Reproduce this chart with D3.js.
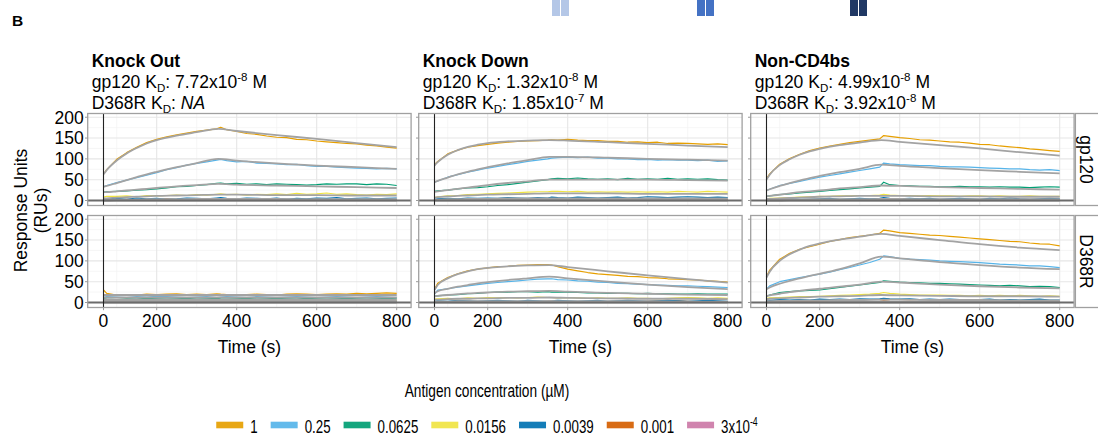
<!DOCTYPE html>
<html>
<head>
<meta charset="utf-8">
<script src="https://cdn.jsdelivr.net/npm/d3@7"></script>
<style>
  body { margin: 0; background: #fff; }
  svg text { font-family: "Liberation Sans", Arial, Helvetica, sans-serif; fill: #000; }
</style>
</head>
<body>
<svg id="chart" width="1098" height="437"></svg>
<script>
// ---- chart values ----
const concentrations = ["1", "0.25", "0.0625", "0.0156", "0.0039", "0.001", "3x10"];
const concSup = ["", "", "", "", "", "", "-4"];
const concColors = ["#E69F00", "#56B4E9", "#009E73", "#F0E442", "#0072B2", "#D55E00", "#CC79A7"];

const antibodies = ["Knock Out", "Knock Down", "Non-CD4bs"];
const gp120Kd = ["7.72x10", "1.32x10", "4.99x10"];
const gp120Exp = ["-8", "-8", "-8"];
const d368rKd = ["NA", "1.85x10", "3.92x10"];
const d368rExp = ["", "-7", "-8"];
const antigens = ["gp120", "D368R"];

const injectionStart = 67;
const xTickValues = [67, 200, 400, 600, 800];
const xTickLabels = ["0", "200", "400", "600", "800"];
const xMajorGrid = [200, 400, 600, 800];
const xMinorGrid = [100, 300, 500, 700];
const yTickValues = [0, 50, 100, 150, 200];
const yMinorGrid = [25, 75, 125, 175];

// sampling times of the sensorgrams and of the fitted curves (s)
const dataTimes = [67, 75, 100, 125, 150, 175, 200, 225, 250, 275, 300, 325, 350, 360, 375, 400,
  425, 450, 475, 500, 525, 550, 575, 600, 625, 650, 675, 700, 725, 750, 775, 800];
const fitTimes = [67, 75, 100, 125, 150, 175, 200, 250, 300, 354, 400, 500, 600, 700, 800];

// Knock Out / gp120
const koGp120Data = [
  [63, 74, 99, 115, 128, 139, 147, 153, 158, 162, 166, 169, 172, 176, 170, 166, 161, 159, 155, 152, 151, 147, 146, 143, 141, 139, 137, 136, 133, 131, 128, 126],
  [33, 36, 43, 49, 55, 61, 67, 74, 79, 85, 89, 93, 97, 99, 96, 93, 94, 90, 89, 88, 86, 87, 84, 82, 82, 80, 79, 78, 77, 76, 77, 76],
  [20, 21, 22, 23, 25, 26, 28, 30, 33, 34, 36, 38, 41, 42, 40, 41, 39, 40, 38, 40, 39, 38, 37, 38, 40, 39, 40, 40, 38, 40, 39, 36],
  [8, 10, 10, 11, 9, 12, 11, 12, 13, 12, 14, 13, 15, 16, 14, 15, 13, 15, 14, 16, 14, 17, 15, 16, 18, 15, 16, 14, 13, 15, 14, 16],
  [3, 4, 5, 3, 6, 4, 5, 3, 4, 6, 5, 4, 6, 7, 5, 4, 6, 5, 4, 6, 3, 5, 4, 6, 5, 7, 4, 5, 6, 4, 5, 6],
  [1, 2, 1, 3, 2, 1, 2, 4, 2, 1, 2, 3, 2, 3, 1, 2, 3, 1, 2, 2, 3, 1, 2, 4, 2, 1, 3, 2, 2, 3, 1, 2],
  [0, 1, 0, 1, 2, 0, 1, 0, 1, 1, 0, 2, 1, 0, 1, 1, 0, 1, 2, 0, 1, 0, 1, 1, 0, 1, 2, 0, 1, 0, 1, 1]
];
const koGp120Fit = [
  [63, 73, 96, 113, 126, 137, 145, 156, 164, 172, 167, 157, 148, 138, 128],
  [33, 35, 42, 49, 56, 63, 69, 80, 90, 100, 96, 89, 84, 80, 76],
  [20, 20, 22, 24, 26, 28, 30, 34, 37, 40, 38, 36, 34, 32, 30],
  [5, 5, 7, 8, 9, 10, 11, 12, 13, 14, 14, 13, 13, 12, 12],
  [1, 1, 2, 2, 2, 3, 3, 3, 4, 4, 4, 4, 3, 3, 3],
  [0, 0, 1, 1, 1, 1, 1, 1, 1, 1, 1, 1, 1, 1, 1],
  [0, 0, 0, 0, 0, 0, 0, 0, 0, 0, 0, 0, 0, 0, 0]
];

// Knock Down / gp120
const kdGp120Data = [
  [86, 94, 112, 121, 128, 132, 135, 138, 140, 142, 143, 144, 145, 146, 145, 147, 145, 144, 144, 142, 142, 140, 141, 139, 140, 137, 138, 137, 136, 135, 136, 134],
  [44, 47, 56, 62, 68, 73, 78, 82, 86, 90, 94, 97, 100, 102, 103, 104, 103, 104, 102, 102, 100, 100, 98, 99, 97, 98, 97, 97, 96, 97, 94, 95],
  [22, 23, 25, 28, 30, 31, 33, 36, 38, 41, 44, 47, 50, 52, 53, 52, 54, 52, 51, 52, 50, 53, 51, 52, 51, 53, 51, 52, 51, 52, 50, 49],
  [7, 9, 11, 12, 14, 15, 16, 17, 18, 19, 20, 21, 21, 22, 22, 21, 22, 20, 21, 20, 21, 20, 21, 20, 21, 20, 22, 21, 20, 22, 21, 20],
  [3, 4, 5, 4, 6, 5, 6, 5, 7, 6, 5, 7, 6, 8, 7, 6, 8, 7, 6, 7, 8, 6, 7, 9, 8, 7, 8, 9, 8, 7, 8, 7],
  [1, 2, 2, 3, 2, 3, 2, 3, 3, 2, 3, 2, 3, 3, 2, 3, 2, 3, 3, 2, 3, 2, 3, 2, 3, 3, 2, 3, 2, 3, 2, 3],
  [0, 1, 1, 0, 1, 1, 0, 1, 1, 1, 0, 1, 1, 1, 0, 1, 1, 0, 1, 1, 1, 0, 1, 1, 0, 1, 1, 1, 0, 1, 1, 1]
];
const kdGp120Fit = [
  [84, 92, 110, 121, 129, 134, 138, 142, 144, 145, 144, 140, 136, 132, 128],
  [44, 47, 55, 63, 69, 75, 80, 89, 97, 105, 105, 103, 100, 98, 96],
  [21, 22, 25, 28, 31, 34, 37, 42, 46, 50, 50, 50, 50, 49, 48],
  [7, 8, 10, 11, 12, 13, 14, 15, 16, 17, 17, 17, 16, 16, 16],
  [2, 2, 3, 3, 4, 4, 4, 5, 5, 5, 5, 5, 5, 5, 5],
  [1, 1, 1, 1, 1, 2, 2, 2, 2, 2, 2, 2, 2, 2, 2],
  [0, 0, 0, 0, 0, 0, 0, 0, 0, 0, 0, 0, 0, 0, 0]
];

// Non-CD4bs / gp120
const ncGp120Data = [
  [52, 64, 87, 101, 111, 120, 126, 131, 135, 139, 142, 145, 148, 156, 154, 151, 149, 146, 145, 143, 141, 140, 138, 135, 134, 131, 129, 127, 124, 122, 120, 118],
  [24, 27, 36, 41, 46, 51, 56, 60, 64, 68, 72, 76, 80, 90, 88, 86, 85, 84, 84, 82, 81, 81, 80, 79, 78, 77, 76, 76, 74, 73, 74, 72],
  [10, 11, 14, 16, 18, 20, 22, 24, 26, 28, 30, 32, 34, 44, 38, 36, 35, 34, 34, 33, 33, 34, 33, 33, 32, 33, 32, 32, 31, 32, 33, 32],
  [4, 5, 6, 7, 8, 9, 10, 10, 11, 11, 12, 12, 13, 15, 13, 12, 12, 11, 12, 11, 11, 10, 11, 11, 10, 11, 10, 10, 11, 10, 10, 10],
  [2, 3, 2, 4, 3, 3, 4, 5, 3, 4, 5, 4, 5, 7, 5, 4, 5, 4, 5, 3, 4, 5, 4, 3, 5, 4, 6, 4, 3, 4, 5, 4],
  [1, 1, 2, 1, 2, 1, 2, 2, 1, 2, 1, 2, 2, 3, 2, 1, 2, 1, 2, 2, 1, 2, 2, 1, 2, 2, 1, 2, 1, 2, 2, 1],
  [0, 0, 1, 0, 1, 0, 1, 1, 0, 1, 0, 1, 0, 1, 1, 0, 1, 0, 1, 0, 1, 0, 1, 1, 0, 1, 0, 1, 0, 1, 0, 1]
];
const ncGp120Fit = [
  [50, 62, 85, 99, 110, 118, 124, 133, 139, 145, 141, 133, 125, 116, 108],
  [24, 27, 35, 42, 48, 54, 59, 68, 76, 86, 83, 78, 73, 69, 65],
  [10, 11, 14, 17, 20, 22, 24, 29, 32, 36, 35, 32, 30, 28, 26],
  [4, 4, 5, 6, 7, 8, 9, 10, 11, 11, 11, 10, 10, 9, 9],
  [1, 1, 2, 2, 2, 3, 3, 3, 3, 4, 4, 3, 3, 3, 3],
  [0, 0, 0, 1, 1, 1, 1, 1, 1, 1, 1, 1, 1, 1, 1],
  [0, 0, 0, 0, 0, 0, 0, 0, 0, 0, 0, 0, 0, 0, 0]
];

// Knock Out / D368R
const koD368rData = [
  [30, 22, 18, 19, 18, 20, 19, 20, 21, 19, 20, 19, 21, 20, 19, 18, 19, 20, 19, 18, 20, 21, 20, 19, 20, 21, 20, 22, 21, 22, 23, 22],
  [12, 14, 13, 12, 14, 13, 15, 14, 13, 12, 13, 14, 12, 13, 14, 13, 12, 14, 13, 12, 13, 14, 13, 12, 13, 14, 13, 12, 13, 14, 13, 12],
  [9, 8, 7, 9, 8, 10, 9, 8, 9, 10, 8, 9, 10, 9, 8, 9, 10, 8, 9, 10, 9, 8, 10, 9, 8, 9, 10, 9, 8, 9, 10, 9],
  [5, 6, 5, 4, 6, 5, 4, 6, 5, 6, 4, 5, 6, 5, 4, 6, 5, 4, 6, 5, 5, 6, 4, 5, 6, 5, 4, 6, 5, 4, 6, 5],
  [2, 3, 2, 1, 3, 2, 3, 1, 2, 3, 2, 1, 3, 2, 2, 3, 1, 2, 3, 2, 1, 3, 2, 2, 3, 1, 2, 3, 2, 1, 3, 2],
  [1, 0, 1, 2, 1, 0, 1, 1, 2, 1, 0, 1, 2, 1, 1, 0, 1, 2, 1, 0, 1, 1, 2, 1, 0, 1, 2, 1, 1, 0, 1, 1],
  [3, 1, 0, 1, 0, 1, 1, 0, 1, 0, 1, 1, 0, 1, 0, 1, 0, 1, 1, 0, 1, 0, 1, 0, 1, 1, 0, 1, 0, 1, 0, 1]
];
const koD368rFit = [
  [18, 18, 18, 18, 18, 18, 18, 18, 18, 18, 18, 18, 18, 18, 18],
  [12, 12, 12, 12, 12, 12, 12, 12, 12, 12, 12, 12, 12, 12, 12],
  [7, 7, 7, 7, 7, 7, 7, 7, 7, 7, 7, 7, 7, 7, 7],
  [4, 4, 4, 4, 4, 4, 4, 4, 4, 4, 4, 4, 4, 4, 4],
  [2, 2, 2, 2, 2, 2, 2, 2, 2, 2, 2, 2, 2, 2, 2],
  [1, 1, 1, 1, 1, 1, 1, 1, 1, 1, 1, 1, 1, 1, 1],
  [0, 0, 0, 0, 0, 0, 0, 0, 0, 0, 0, 0, 0, 0, 0]
];

// Knock Down / D368R
const kdD368rData = [
  [32, 46, 60, 69, 76, 80, 83, 86, 87, 89, 90, 91, 91, 90, 86, 80, 76, 72, 69, 67, 65, 63, 62, 60, 59, 57, 56, 55, 54, 52, 51, 49],
  [20, 30, 33, 37, 40, 43, 46, 48, 50, 52, 54, 56, 57, 57, 55, 54, 52, 51, 49, 48, 46, 45, 44, 43, 42, 41, 40, 40, 39, 38, 37, 36],
  [15, 16, 18, 19, 21, 22, 24, 25, 25, 26, 26, 25, 26, 25, 25, 25, 24, 23, 23, 22, 22, 22, 21, 22, 21, 21, 20, 20, 21, 20, 20, 20],
  [8, 9, 10, 9, 11, 10, 12, 11, 12, 11, 12, 13, 12, 12, 11, 12, 11, 10, 11, 10, 10, 11, 10, 10, 9, 10, 11, 12, 11, 10, 11, 10],
  [3, 4, 3, 5, 4, 3, 4, 5, 4, 3, 5, 4, 3, 4, 5, 4, 3, 4, 5, 3, 4, 5, 4, 3, 4, 5, 4, 3, 4, 5, 4, 3],
  [1, 2, 1, 2, 2, 1, 2, 1, 2, 2, 1, 2, 1, 2, 2, 1, 2, 2, 1, 2, 3, 2, 2, 3, 4, 5, 4, 3, 2, 2, 1, 2],
  [0, 1, 0, 1, 0, 1, 1, 0, 1, 0, 1, 0, 1, 1, 0, 1, 0, 1, 0, 1, 1, 0, 1, 0, 1, 1, 0, 1, 0, 1, 0, 1]
];
const kdD368rFit = [
  [30, 42, 58, 68, 75, 80, 83, 87, 89, 90, 85, 75, 65, 56, 48],
  [22, 27, 33, 38, 42, 46, 49, 54, 58, 62, 58, 50, 43, 37, 32],
  [15, 16, 18, 20, 22, 23, 24, 26, 27, 28, 26, 23, 21, 19, 18],
  [7, 7, 8, 9, 9, 10, 10, 11, 11, 12, 11, 10, 9, 9, 8],
  [2, 2, 2, 3, 3, 3, 3, 3, 3, 4, 3, 3, 3, 2, 2],
  [1, 1, 1, 1, 1, 1, 1, 1, 1, 1, 1, 1, 1, 1, 1],
  [0, 0, 0, 0, 0, 0, 0, 0, 0, 0, 0, 0, 0, 0, 0]
];

// Non-CD4bs / D368R
const ncD368rData = [
  [62, 78, 104, 118, 128, 134, 140, 147, 151, 156, 159, 162, 166, 174, 172, 168, 166, 164, 162, 161, 159, 157, 155, 153, 151, 149, 147, 146, 143, 141, 140, 136],
  [32, 40, 50, 55, 60, 64, 68, 73, 79, 84, 90, 96, 104, 112, 110, 106, 104, 103, 102, 100, 99, 98, 97, 96, 94, 92, 91, 90, 88, 88, 86, 84],
  [15, 18, 24, 26, 28, 29, 30, 33, 36, 39, 42, 45, 48, 52, 51, 49, 48, 47, 46, 46, 45, 44, 43, 42, 41, 40, 41, 40, 38, 39, 38, 36],
  [10, 11, 12, 13, 14, 14, 15, 16, 17, 18, 19, 20, 22, 24, 22, 20, 19, 18, 18, 18, 17, 17, 16, 17, 16, 17, 16, 17, 16, 15, 16, 15],
  [6, 5, 7, 6, 7, 6, 8, 7, 8, 7, 9, 8, 9, 10, 9, 8, 9, 7, 8, 7, 8, 7, 6, 7, 8, 6, 7, 6, 7, 8, 6, 6],
  [2, 2, 3, 2, 3, 2, 3, 3, 2, 3, 3, 2, 3, 4, 3, 2, 3, 2, 3, 2, 3, 2, 2, 3, 2, 3, 2, 2, 3, 2, 2, 2],
  [1, 0, 1, 1, 0, 1, 1, 0, 1, 1, 0, 1, 1, 1, 0, 1, 1, 0, 1, 1, 0, 1, 1, 0, 1, 1, 0, 1, 1, 0, 1, 1]
];
const ncD368rFit = [
  [60, 74, 100, 116, 127, 136, 142, 151, 158, 165, 160, 150, 140, 132, 126],
  [32, 36, 45, 52, 58, 64, 69, 80, 94, 110, 106, 97, 90, 84, 80],
  [15, 17, 21, 25, 28, 31, 33, 38, 43, 50, 48, 43, 39, 36, 34],
  [8, 9, 10, 11, 12, 13, 14, 15, 16, 18, 17, 16, 15, 15, 14],
  [3, 3, 4, 4, 5, 5, 5, 6, 6, 7, 7, 6, 6, 5, 5],
  [1, 1, 1, 1, 1, 1, 1, 2, 2, 2, 2, 2, 2, 2, 2],
  [0, 0, 0, 0, 0, 0, 0, 0, 0, 0, 0, 0, 0, 0, 0]
];

const panelData = [[koGp120Data, kdGp120Data, ncGp120Data], [koD368rData, kdD368rData, ncD368rData]];
const panelFits = [[koGp120Fit, kdGp120Fit, ncGp120Fit], [koD368rFit, kdD368rFit, ncD368rFit]];

// ---- layout ----
const svg = d3.select("#chart");
const panelX = [87.7, 418.7, 750.7];
const panelY = [113.5, 215.5];
const panelW = 323.4, panelH = 92;
const tickFont = 17.5;

const x = d3.scaleLinear().domain([27.5, 836]).range([0, panelW]);
const y = d3.scaleLinear().domain([-12, 209]).range([panelH, 0]);

// small helper for text with sub/superscripts
function richText(sel, parts, size) {
  let shift = 0;
  parts.forEach(([txt, kind]) => {
    const t = sel.append("tspan").text(txt);
    let target = 0;
    if (kind === "sub") target = size * 0.24;
    if (kind === "sup") target = -size * 0.38;
    t.attr("dy", target - shift);
    shift = target;
    if (kind === "sub" || kind === "sup") t.attr("font-size", size * 0.66);
    if (kind === "it") t.attr("font-style", "italic");
  });
}

// decorative blocks cut off at the top of the figure
const topBlockX = [552, 697, 850];
const topBlockColors = ["#b4c7e7", "#4472c4", "#203864"];
topBlockX.forEach((bx, i) => {
  [0, 9].forEach(off => {
    svg.append("rect").attr("x", bx + off).attr("y", 0).attr("width", 8).attr("height", 16)
      .attr("fill", topBlockColors[i]);
  });
});

svg.append("text").attr("x", 12).attr("y", 25.5)
  .attr("font-size", 15.5).attr("font-weight", "bold").text("B");

// column titles
antibodies.forEach((name, c) => {
  const tx = panelX[c] + 4;
  svg.append("text").attr("x", tx).attr("y", 67)
    .attr("font-size", 17.5).attr("font-weight", "bold").text(name);
  const l2 = svg.append("text").attr("x", tx).attr("y", 88).attr("font-size", 17.5);
  richText(l2, [["gp120 K", ""], ["D", "sub"], [": " + gp120Kd[c], ""], [gp120Exp[c], "sup"], [" M", ""]], 17.5);
  const l3 = svg.append("text").attr("x", tx).attr("y", 108.5).attr("font-size", 17.5);
  if (d368rExp[c] === "") {
    richText(l3, [["D368R K", ""], ["D", "sub"], [": ", ""], [d368rKd[c], "it"]], 17.5);
  } else {
    richText(l3, [["D368R K", ""], ["D", "sub"], [": " + d368rKd[c], ""], [d368rExp[c], "sup"], [" M", ""]], 17.5);
  }
});

const dataLine = d3.line().x((d, i) => x(dataTimes[i])).y(d => y(d));
const fitLine = d3.line().x((d, i) => x(fitTimes[i])).y(d => y(d)).curve(d3.curveMonotoneX);

antigens.forEach((ag, r) => {
  antibodies.forEach((ab, c) => {
    const g = svg.append("g").attr("transform", `translate(${panelX[c]},${panelY[r]})`);
    const clipId = `clip-${r}-${c}`;
    g.append("clipPath").attr("id", clipId)
      .append("rect").attr("width", panelW).attr("height", panelH);

    g.append("rect").attr("width", panelW).attr("height", panelH).attr("fill", "#fff");

    // grid
    g.selectAll(".ymin").data(yMinorGrid).enter().append("line")
      .attr("x1", 0).attr("x2", panelW).attr("y1", d => y(d)).attr("y2", d => y(d))
      .attr("stroke", "#f2f2f2").attr("stroke-width", 0.7);
    g.selectAll(".xmin").data(xMinorGrid).enter().append("line")
      .attr("y1", 0).attr("y2", panelH).attr("x1", d => x(d)).attr("x2", d => x(d))
      .attr("stroke", "#f2f2f2").attr("stroke-width", 0.7);
    g.selectAll(".ymaj").data(yTickValues).enter().append("line")
      .attr("x1", 0).attr("x2", panelW).attr("y1", d => y(d)).attr("y2", d => y(d))
      .attr("stroke", "#e6e6e6").attr("stroke-width", 1.1);
    g.selectAll(".xmaj").data(xMajorGrid).enter().append("line")
      .attr("y1", 0).attr("y2", panelH).attr("x1", d => x(d)).attr("x2", d => x(d))
      .attr("stroke", "#e6e6e6").attr("stroke-width", 1.1);

    const plot = g.append("g").attr("clip-path", `url(#${clipId})`);

    // sensorgrams, lowest concentration drawn first
    const series = panelData[r][c];
    for (let k = series.length - 1; k >= 0; k--) {
      plot.append("path").attr("d", dataLine(series[k]))
        .attr("fill", "none").attr("stroke", concColors[k]).attr("stroke-width", 1.2)
        .attr("stroke-linejoin", "round");
    }
    // fitted curves on top
    panelFits[r][c].forEach(f => {
      plot.append("path").attr("d", fitLine(f))
        .attr("fill", "none").attr("stroke", "#a3a3a3").attr("stroke-width", 1.8)
        .attr("stroke-linejoin", "round");
    });

    // zero line and injection start
    plot.append("line").attr("x1", 0).attr("x2", panelW).attr("y1", y(0)).attr("y2", y(0))
      .attr("stroke", "#6b6b6b").attr("stroke-width", 2);
    plot.append("line").attr("x1", x(injectionStart)).attr("x2", x(injectionStart))
      .attr("y1", 0).attr("y2", panelH).attr("stroke", "#222").attr("stroke-width", 1.1);

    g.append("rect").attr("width", panelW).attr("height", panelH)
      .attr("fill", "none").attr("stroke", "#a0a0a0").attr("stroke-width", 1.3);

    // y ticks on every panel, labels on the first column
    g.selectAll(".yt").data(yTickValues).enter().append("line")
      .attr("x1", -2.7).attr("x2", 0).attr("y1", d => y(d)).attr("y2", d => y(d))
      .attr("stroke", "#9a9a9a").attr("stroke-width", 1);
    if (c === 0) {
      g.selectAll(".yl").data(yTickValues).enter().append("text")
        .attr("x", -4).attr("y", d => y(d)).attr("dy", "0.36em")
        .attr("text-anchor", "end").attr("font-size", tickFont).text(d => d);
    }

    // x axis on the bottom row
    if (r === antigens.length - 1) {
      g.selectAll(".xt").data(xTickValues).enter().append("line")
        .attr("x1", d => x(d)).attr("x2", d => x(d)).attr("y1", panelH).attr("y2", panelH + 2.7)
        .attr("stroke", "#9a9a9a").attr("stroke-width", 1);
      g.selectAll(".xl").data(xTickValues).enter().append("text")
        .attr("x", d => x(d)).attr("y", panelH + 19.3)
        .attr("text-anchor", "middle").attr("font-size", tickFont)
        .text((d, i) => xTickLabels[i]);
      g.append("text").attr("x", panelW / 2).attr("y", panelH + 45.5)
        .attr("text-anchor", "middle").attr("font-size", tickFont).text("Time (s)");
    }
  });

  // facet strip on the right
  const sx = panelX[2] + panelW + 1.3;
  svg.append("rect").attr("x", sx).attr("y", panelY[r]).attr("width", 30).attr("height", panelH)
    .attr("fill", "#fff").attr("stroke", "#a0a0a0").attr("stroke-width", 1.3);
  svg.append("text")
    .attr("transform", `translate(${sx + 11},${panelY[r] + panelH / 2}) rotate(90)`)
    .attr("text-anchor", "middle").attr("dominant-baseline", "central")
    .attr("font-size", 17.5).text(ag);
});

// y axis title
const yMid = (panelY[0] + panelY[1] + panelH) / 2;
svg.append("text").attr("transform", `translate(27,${yMid}) rotate(-90)`)
  .attr("text-anchor", "middle").attr("font-size", 17.5).text("Response Units");
svg.append("text").attr("transform", `translate(47,${yMid}) rotate(-90)`)
  .attr("text-anchor", "middle").attr("font-size", 17.5).text("(RUs)");

// legend (condensed text like the original)
const legendCx = 487, legendScale = 0.72, legendFont = 18.5;
svg.append("text").attr("transform", `translate(${legendCx},397) scale(0.74,1)`)
  .attr("text-anchor", "middle").attr("font-size", legendFont).text("Antigen concentration (µM)");

const legend = svg.append("g").attr("transform", "translate(0,425)");
const items = concentrations.map((lab, i) => {
  const it = legend.append("g");
  it.append("rect").attr("x", 0).attr("y", -3.3).attr("width", 27).attr("height", 6.6)
    .attr("fill", concColors[i]).attr("opacity", 0.92);
  const t = it.append("text").attr("transform", `translate(34,7.7) scale(${legendScale},1)`)
    .attr("font-size", legendFont);
  richText(t, concSup[i] ? [[lab, ""], [concSup[i], "sup"]] : [[lab, ""]], legendFont);
  const w = 34 + t.node().getComputedTextLength() * legendScale;
  return { it, w };
});
const gap = 13;
const total = d3.sum(items, d => d.w) + gap * (items.length - 1);
let cursor = legendCx - total / 2;
items.forEach(d => {
  d.it.attr("transform", `translate(${cursor},0)`);
  cursor += d.w + gap;
});
</script>
</body>
</html>
